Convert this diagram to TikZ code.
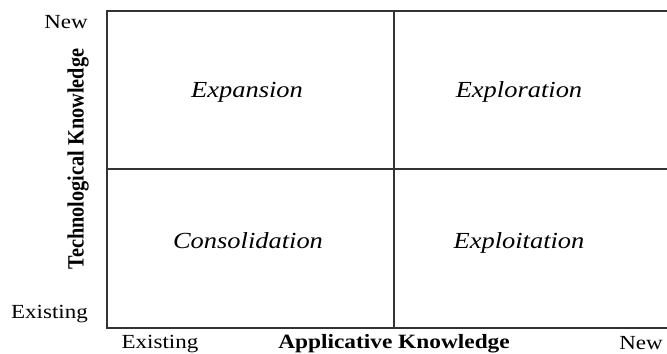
\documentclass[tikz,border=0pt]{standalone}
\usepackage{fontspec}
\setmainfont{Liberation Serif}
\usepackage{graphicx}
\newcommand\widetext[1]{\scalebox{1.15}[1]{#1}}
\newcommand\tallwide[1]{\scalebox{1}[1.15]{#1}}
\begin{document}
\begin{tikzpicture}[x=1bp,y=-1bp,
  grid/.style={draw=black!80,line width=1.3bp},
  tick/.style={inner sep=0pt,font=\fontsize{20bp}{24bp}\selectfont},
  axis/.style={inner sep=0pt,font=\fontsize{20.3bp}{24bp}\selectfont\bfseries},
  quad/.style={inner sep=0pt,anchor=base,font=\fontsize{23bp}{26bp}\selectfont\itshape}]
\useasboundingbox (0,0) rectangle (667,353);
% matrix frame: open on the right
\coordinate (tl) at (107,11);
\coordinate (tr) at (667,11);
\coordinate (bl) at (107,328);
\coordinate (br) at (667,328);
\coordinate (ml) at (107,169);
\coordinate (mr) at (667,169);
\coordinate (mt) at (394,11);
\coordinate (mb) at (394,328);
\draw[grid] (tr) -- (tl) -- (bl) -- (br);
\draw[grid] (ml) -- (mr);
\draw[grid] (mt) -- (mb);
% quadrant names
\node[quad] (expan) at (247,97) {\widetext{Expansion}};
\node[quad] (explor) at (519,97) {\widetext{Exploration}};
\node[quad] (consol) at (248,248) {\widetext{Consolidation}};
\node[quad] (exploit) at (519,248) {\widetext{Exploitation}};
% vertical axis
\node[tick,anchor=base east] (ynew) at (88,28) {\widetext{New}};
\node[tick,anchor=base east] (yold) at (88,318) {\widetext{Existing}};
\node[axis,rotate=90] (ylab) at (78,159) {\tallwide{Technological Knowledge}};
% horizontal axis
\node[tick,anchor=base] (xold) at (160,348) {\widetext{Existing}};
\node[axis,anchor=base] (xlab) at (394,348) {\widetext{Applicative Knowledge}};
\node[tick,anchor=base] (xnew) at (641,349.5) {\widetext{New}};
\end{tikzpicture}
\end{document}
